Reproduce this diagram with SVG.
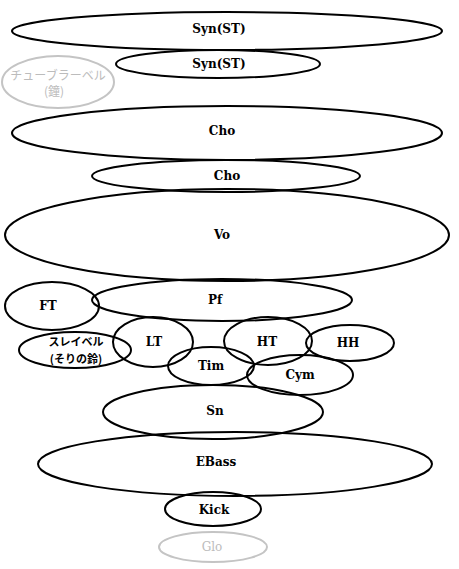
<svg xmlns="http://www.w3.org/2000/svg" width="459" height="569" viewBox="0 0 459 569">
<style>
.n{fill:none;stroke:#000;stroke-width:2}
.g{fill:none;stroke:#c4c4c4;stroke-width:2}
.t{font-family:"DejaVu Serif","Liberation Serif",serif;font-weight:bold;font-size:12px;text-anchor:middle;fill:#000}
.j{font-family:"Noto Sans CJK JP",sans-serif;font-weight:bold;font-size:11px;text-anchor:middle;fill:#000}
.tg{fill:#bcbcbc;font-weight:normal}
.big{font-size:12px}
</style>
<rect width="459" height="569" fill="#fff"/>
<g id="syn1"><ellipse class="n" cx="227" cy="31" rx="215" ry="19"/><text class="t" x="219" y="33">Syn(ST)</text></g>
<g id="syn2"><ellipse class="n" cx="218" cy="64" rx="102" ry="14"/><text class="t" x="219" y="68">Syn(ST)</text></g>
<g id="tubular"><ellipse class="g" cx="58" cy="82" rx="56" ry="26"/><text class="j tg big" x="58" y="80">チューブラーベル</text><text class="j tg big" x="54" y="96">(鐘)</text></g>
<g id="cho1"><ellipse class="n" cx="227" cy="133" rx="215" ry="27"/><text class="t" x="222" y="135">Cho</text></g>
<g id="cho2"><ellipse class="n" cx="226" cy="176" rx="134" ry="16"/><text class="t" x="227" y="180">Cho</text></g>
<g id="vo"><ellipse class="n" cx="227" cy="235" rx="222" ry="46"/><text class="t" x="222" y="239">Vo</text></g>
<g id="ft"><ellipse class="n" cx="52" cy="306" rx="47" ry="24"/><text class="t" x="48" y="310">FT</text></g>
<g id="pf"><ellipse class="n" cx="222" cy="300" rx="130" ry="21"/><text class="t" x="215" y="304">Pf</text></g>
<g id="sleigh"><ellipse class="n" cx="75" cy="350" rx="56" ry="18"/><text class="j" x="76" y="346">スレイベル</text><text class="j" x="76" y="363">(そりの鈴)</text></g>
<g id="lt"><ellipse class="n" cx="153" cy="342" rx="40" ry="25"/><text class="t" x="154" y="346">LT</text></g>
<g id="ht"><ellipse class="n" cx="268" cy="341" rx="44" ry="24"/><text class="t" x="267" y="346">HT</text></g>
<g id="hh"><ellipse class="n" cx="350" cy="343" rx="44" ry="18"/><text class="t" x="348" y="347">HH</text></g>
<g id="tim"><ellipse class="n" cx="211" cy="366" rx="43" ry="19"/><text class="t" x="211" y="370">Tim</text></g>
<g id="cym"><ellipse class="n" cx="300" cy="375" rx="53" ry="20"/><text class="t" x="300" y="379">Cym</text></g>
<g id="sn"><ellipse class="n" cx="213" cy="412" rx="110" ry="27"/><text class="t" x="215" y="415">Sn</text></g>
<g id="ebass"><ellipse class="n" cx="235" cy="464" rx="197" ry="32"/><text class="t" x="216" y="466">EBass</text></g>
<g id="kick"><ellipse class="n" cx="213" cy="509" rx="48" ry="17"/><text class="t" x="214" y="514">Kick</text></g>
<g id="glo"><ellipse class="g" cx="213" cy="547" rx="54" ry="15"/><text class="t tg" x="212" y="551">Glo</text></g>
<g id="connectors"></g>
</svg>
